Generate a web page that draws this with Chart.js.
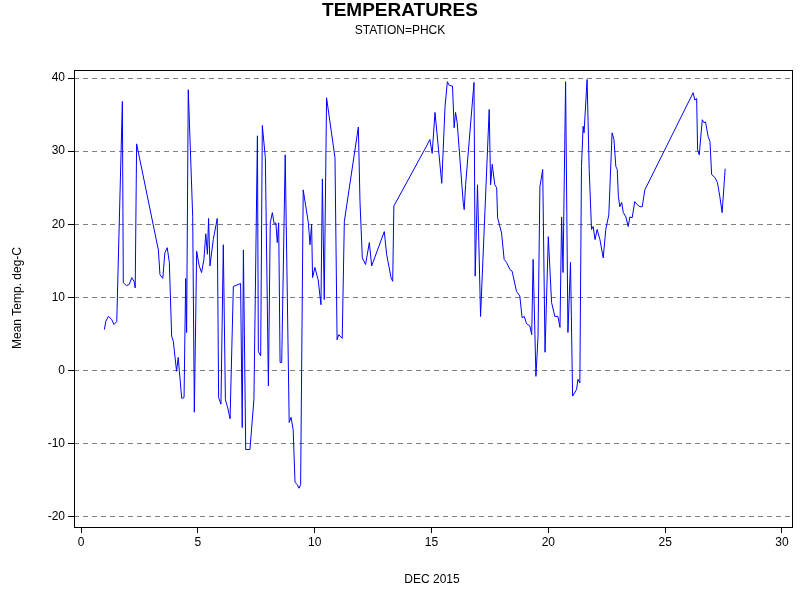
<!DOCTYPE html>
<html><head><meta charset="utf-8">
<script src="https://cdn.jsdelivr.net/npm/chart.js@4"></script>
<style>html,body{margin:0;padding:0;background:#fff}#w{width:800px;height:600px}</style>
</head><body><div id="w"><canvas id="c"></canvas></div>
<script>
const days = [1.0,1.06,1.17,1.31,1.41,1.53,1.77,1.81,1.95,2.07,2.17,2.27,2.32,2.38,3.31,3.38,3.5,3.59,3.69,3.78,3.88,3.95,4.09,4.16,4.21,4.31,4.41,4.48,4.52,4.59,4.78,4.85,4.95,5.06,5.16,5.26,5.34,5.41,5.46,5.52,5.66,5.83,5.89,5.99,6.09,6.18,6.28,6.38,6.52,6.83,6.9,6.95,7.05,7.23,7.4,7.55,7.59,7.69,7.76,7.89,8.02,8.1,8.19,8.27,8.34,8.4,8.46,8.52,8.59,8.74,8.91,8.99,9.08,9.16,9.26,9.33,9.4,9.51,9.73,9.8,9.87,9.91,10.01,10.15,10.27,10.33,10.41,10.51,10.87,10.96,11.03,11.18,11.27,11.87,11.94,12.04,12.18,12.34,12.44,12.98,13.08,13.27,13.34,13.39,14.79,14.93,15.03,15.15,15.44,15.58,15.68,15.76,15.9,15.97,16.03,16.1,16.36,16.4,16.46,16.82,16.87,16.97,17.1,17.47,17.53,17.6,17.71,17.79,17.83,18.0,18.11,18.21,18.36,18.45,18.64,18.78,18.88,18.97,19.07,19.21,19.29,19.35,19.47,19.56,19.64,19.76,19.86,20.0,20.14,20.28,20.41,20.5,20.57,20.63,20.74,20.84,20.95,21.04,21.21,21.27,21.35,21.42,21.49,21.53,21.66,21.75,21.85,21.92,22.0,22.09,22.21,22.35,22.46,22.59,22.73,22.81,22.89,22.95,23.0,23.06,23.14,23.21,23.32,23.42,23.49,23.59,23.7,23.8,23.92,24.02,24.13,26.2,26.27,26.35,26.39,26.46,26.59,26.66,26.73,26.84,26.92,26.99,27.13,27.24,27.34,27.44,27.57];
const temps = [5.6,6.7,7.4,7.0,6.3,6.7,36.8,12.0,11.6,11.8,12.7,12.2,11.3,31.0,16.5,13.1,12.6,16.1,16.8,14.8,4.7,4.0,-0.1,1.8,-0.1,-3.8,-3.7,12.6,5.2,38.4,21.1,-5.7,16.3,14.3,13.4,15.2,18.7,15.9,20.8,14.3,17.9,20.8,-3.7,-4.6,17.2,-4.0,-5.1,-6.6,11.5,11.9,-7.8,16.5,-10.8,-10.8,-4.0,32.1,2.6,2.0,33.5,29.1,-2.1,20.2,21.6,20.0,20.2,17.5,20.2,1.1,1.1,29.5,-7.1,-6.4,-8.1,-15.3,-15.6,-16.1,-15.6,24.7,20.2,17.2,20.0,12.7,14.1,12.4,9.0,26.2,9.7,37.3,29.1,4.2,4.9,4.4,20.4,33.3,23.1,15.4,14.5,17.5,14.3,19.0,15.9,12.7,12.2,22.5,30.7,31.6,29.7,35.3,25.6,36.1,39.5,39.0,38.9,33.2,35.3,33.9,22.9,22.0,25.4,39.4,12.9,25.4,7.4,35.7,25.4,28.2,25.4,25.0,20.9,18.8,15.2,14.8,13.8,13.6,10.8,10.2,7.2,7.4,6.4,6.1,4.9,15.2,-0.8,4.6,25.1,27.5,2.5,18.3,9.3,7.4,7.4,5.9,21.0,13.4,39.5,5.2,14.8,-3.5,-2.6,-1.2,-1.7,27.9,33.4,32.5,39.8,27.5,19.3,19.7,17.9,19.3,17.9,15.4,19.3,21.3,32.5,31.6,27.9,27.5,23.8,22.4,23.0,21.6,21.0,19.7,21.0,20.9,23.1,22.7,22.4,22.4,24.7,38.0,37.0,37.2,30.2,29.5,34.3,33.9,34.0,32.0,31.3,26.8,26.4,25.7,23.8,21.6,27.6];
const xTicks = [0,5,10,15,20,25,30];
const yTicks = [-20,-10,0,10,20,30,40];
const titleText = 'TEMPERATURES';
const subtitleText = 'STATION=PHCK';
const xLabel = 'DEC 2015';
const yLabel = 'Mean Temp. deg-C';

const pts = days.map((d,i)=>({x:d,y:temps[i]}));
const F = 'Arial, "Liberation Sans", sans-serif';
const deco = {
  id:'deco',
  afterDraw(ch){
    const c=ch.ctx, a=ch.chartArea;
    c.save();
    c.strokeStyle='#000'; c.lineWidth=1;
    c.strokeRect(Math.round(a.left)+0.5,Math.round(a.top)+0.5,Math.round(a.right-a.left),Math.round(a.bottom-a.top));
    c.fillStyle='#000'; c.textAlign='center'; c.textBaseline='middle';
    c.font='bold 19px '+F; c.fillText(titleText,400,11);
    c.font='12px '+F; c.fillText(subtitleText,400,31);
    c.fillText(xLabel,432,580);
    c.translate(18,298); c.rotate(-Math.PI/2); c.fillText(yLabel,0,0);
    c.restore();
  }
};
new Chart(document.getElementById('c'),{
  type:'line',
  data:{datasets:[{data:pts,borderColor:'#0000ff',borderWidth:1,pointRadius:0,tension:0,fill:false}]},
  options:{
    responsive:true,maintainAspectRatio:false,animation:false,
    layout:{padding:{top:70,right:8,left:0,bottom:0}},
    plugins:{legend:{display:false},tooltip:{enabled:false}},
    scales:{
      x:{type:'linear',min:-0.3,max:30.43,
        afterBuildTicks(s){s.ticks=xTicks.map(v=>({value:v}));},
        afterFit(s){s.height=73;},
        grid:{drawOnChartArea:false,tickLength:6,tickColor:'#000'},
        border:{display:false},
        ticks:{color:'#000',font:{size:12,family:F},padding:2,maxRotation:0}},
      y:{min:-21.4,max:41.1,
        afterBuildTicks(s){s.ticks=yTicks.map(v=>({value:v}));},
        afterFit(s){s.width=74;},
        grid:{color:'#808080',tickColor:'#000',tickLength:6,tickBorderDash:[]},
        border:{display:false,dash:[5,4]},
        ticks:{color:'#000',font:{size:12,family:F},padding:3}}
    }
  },
  plugins:[deco]
});
</script></body></html>
